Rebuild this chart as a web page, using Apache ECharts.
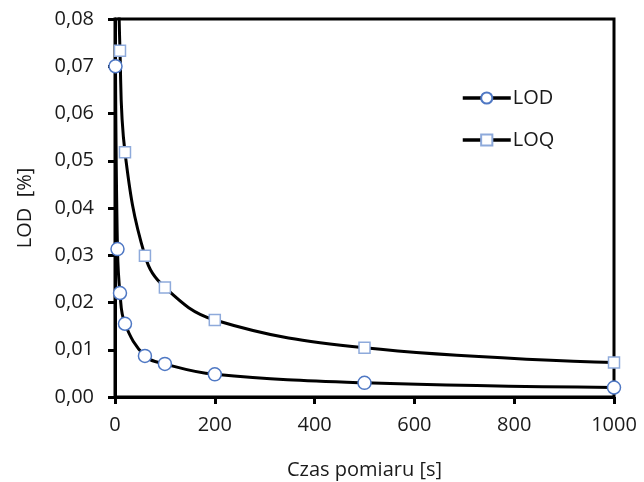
<!DOCTYPE html>
<html>
<head>
<meta charset="utf-8">
<script src="https://cdn.jsdelivr.net/npm/echarts@6/dist/echarts.min.js"></script>
<style>
  html, body { margin: 0; padding: 0; background: #fff; }
  #chart { width: 644px; height: 482px; }
</style>
</head>
<body>
<div id="chart"></div>
<script>
// measurement time [s] and detection / quantification limits [%]
const lodTime = [1, 5, 10, 20, 60, 100, 200, 500, 1000];
const lodVal  = [0.0700, 0.0313, 0.0220, 0.0155, 0.0087, 0.0070, 0.0048, 0.0030, 0.0020];
// first LOQ point lies above the visible range (estimated from the curve leaving the top)
const loqTime = [5, 10, 20, 60, 100, 200, 500, 1000];
const loqVal  = [0.104, 0.0733, 0.0518, 0.0299, 0.0232, 0.0163, 0.0104, 0.0073];

const FONT = "Open Sans";
const TXT  = "#1a1a1a";

const pairs = (xs, ys) => xs.map((x, i) => [x, ys[i]]);
const comma = v => v.toFixed(2).replace(".", ",");

const chart = echarts.init(document.getElementById("chart"), null, { renderer: "canvas" });

chart.setOption({
  animation: false,
  backgroundColor: "#fff",
  textStyle: { fontFamily: FONT },
  grid: {
    left: 115, right: 30, top: 19, bottom: 85,
    outerBoundsMode: "none", containLabel: false,
    show: true, borderColor: "#000", borderWidth: 3,
  },
  legend: {
    orient: "vertical", left: 456, top: 83, itemGap: 22,
    itemWidth: 48, itemHeight: 14,
    lineStyle: { width: 3.5 },
    textStyle: { fontFamily: FONT, fontSize: 20, color: TXT, padding: [0, 0, 0, -3] },
    data: ["LOD", "LOQ"],
  },
  xAxis: {
    type: "value", min: 0, max: 1000, interval: 200,
    name: "Czas pomiaru [s]", nameLocation: "middle", nameGap: 63,
    nameTextStyle: { fontFamily: FONT, fontSize: 20, color: TXT },
    axisLine: { lineStyle: { color: "#000", width: 3 } },
    axisTick: { show: true, inside: false, length: 7, lineStyle: { color: "#000", width: 3 } },
    axisLabel: { fontFamily: FONT, fontSize: 20, color: TXT, margin: 18, formatter: v => String(v) },
    splitLine: { show: false },
  },
  yAxis: {
    type: "value", min: 0, max: 0.08, interval: 0.01,
    name: "LOD  [%]", nameLocation: "middle", nameGap: 80, nameRotate: 90,
    nameTextStyle: { fontFamily: FONT, fontSize: 20, color: TXT },
    axisLine: { lineStyle: { color: "#000", width: 3 } },
    axisTick: { show: true, inside: false, length: 7, lineStyle: { color: "#000", width: 3 } },
    axisLabel: { fontFamily: FONT, fontSize: 20, color: TXT, margin: 21, formatter: comma },
    splitLine: { show: false },
  },
  series: [
    {
      name: "LOD", type: "line", data: pairs(lodTime, lodVal),
      smooth: 0.4, clip: true, z: 3,
      symbol: "circle", symbolSize: 13,
      lineStyle: { color: "#000", width: 3 },
      itemStyle: { color: "#fff", borderColor: "#4f78c4", borderWidth: 1.5 },
    },
    {
      name: "LOQ", type: "line", data: pairs(loqTime, loqVal),
      smooth: 0.4, clip: true, z: 3,
      symbol: "rect", symbolSize: 11,
      lineStyle: { color: "#000", width: 3 },
      itemStyle: { color: "#fff", borderColor: "#8eaadb", borderWidth: 1.5 },
    },
  ],
});
</script>
</body>
</html>
